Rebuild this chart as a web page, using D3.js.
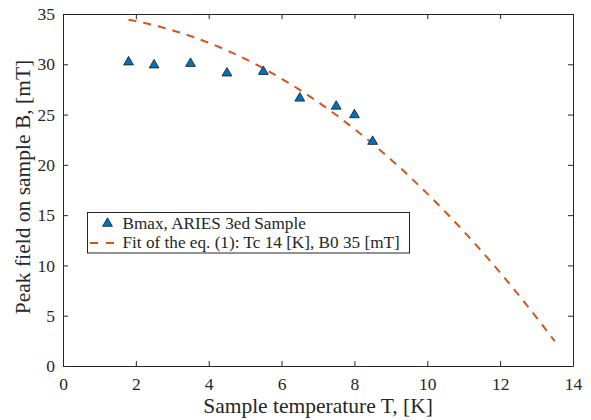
<!DOCTYPE html>
<html><head><meta charset="utf-8">
<script src="https://cdn.jsdelivr.net/npm/d3@7"></script>
<style>body{margin:0;background:#fff}svg{display:block}text{font-family:"Liberation Serif","Times New Roman",serif;fill:#262626}</style>
</head><body><svg id="c" width="591" height="420"></svg>
<script>
// Measured points: Bmax, ARIES 3ed Sample
const measT = [1.8, 2.5, 3.5, 4.5, 5.5, 6.5, 7.5, 8.0, 8.5];
const measB = [30.3, 30.0, 30.15, 29.2, 29.35, 26.7, 25.9, 25.05, 22.4];
// Fit curve
const fitT = [1.8, 2.0, 2.5, 3.0, 3.5, 4.0, 4.5, 5.0, 5.5, 6.0, 6.5, 7.0, 7.5, 8.0, 8.5, 9.0, 9.5, 10.0, 10.5, 11.0, 11.5, 12.0, 12.5, 13.0, 13.5];
const fitB = [34.42, 34.29, 33.88, 33.39, 32.81, 32.14, 31.38, 30.54, 29.60, 28.57, 27.46, 26.25, 24.96, 23.57, 22.10, 20.54, 18.88, 17.14, 15.31, 13.39, 11.38, 9.29, 7.10, 4.82, 2.46];
const xTicks = [0, 2, 4, 6, 8, 10, 12, 14];
const yTicks = [0, 5, 10, 15, 20, 25, 30, 35];
const legendLabels = ["Bmax, ARIES 3ed Sample", "Fit of the eq. (1): Tc 14 [K], B0 35 [mT]"];
const xTitle = "Sample temperature T, [K]";
const yTitle = "Peak field on sample B, [mT]";

const W = 591, H = 420, m = {l: 63, r: 18, t: 14, b: 54};
const svg = d3.select("#c");
const x = d3.scaleLinear().domain([0, 14]).range([m.l, W - m.r]);
const y = d3.scaleLinear().domain([0, 35]).range([H - m.b, m.t]);
const axCol = "#262626";

function styleAxis(g) {
  g.attr("font-family", null);
  g.select(".domain").attr("stroke", axCol);
  g.selectAll(".tick line").attr("stroke", axCol);
  g.selectAll(".tick text").style("font-size", "17.5px").attr("fill", axCol);
}
svg.append("g").attr("transform", `translate(0,${y(0)})`)
  .call(d3.axisBottom(x).tickValues(xTicks).tickSize(-5).tickSizeOuter(0).tickPadding(11.5))
  .call(styleAxis);
svg.append("g").attr("transform", `translate(0,${y(35)})`)
  .call(d3.axisTop(x).tickValues(xTicks).tickSize(-5).tickSizeOuter(0).tickFormat(""))
  .call(styleAxis);
svg.append("g").attr("transform", `translate(${x(0)},0)`)
  .call(d3.axisLeft(y).tickValues(yTicks).tickSize(-5).tickSizeOuter(0).tickPadding(8))
  .call(styleAxis);
svg.append("g").attr("transform", `translate(${x(14)},0)`)
  .call(d3.axisRight(y).tickValues(yTicks).tickSize(-5).tickSizeOuter(0).tickFormat(""))
  .call(styleAxis);

// fit line
const line = d3.line().x(d => x(d[0])).y(d => y(d[1])).curve(d3.curveMonotoneX);
svg.append("path").datum(fitT.map((t, i) => [t, fitB[i]]))
  .attr("d", line).attr("fill", "none").attr("stroke", "#D95319")
  .attr("stroke-width", 2).attr("stroke-dasharray", "8,7");

// triangles
const tri = d3.symbol().type(d3.symbolTriangle).size(42);
svg.selectAll(".pt").data(measT.map((t, i) => [t, measB[i]])).join("path")
  .attr("d", tri).attr("transform", d => `translate(${x(d[0])},${y(d[1]) + 0.8})`)
  .attr("fill", "#0072BD").attr("stroke", "#1a1a1a").attr("stroke-width", 0.8);

// titles
svg.append("text").attr("x", (x(0) + x(14)) / 2).attr("y", 413).attr("text-anchor", "middle")
  .style("font-size", "21.5px").text(xTitle);
svg.append("text").attr("transform", `translate(30,187) rotate(-90)`)
  .attr("text-anchor", "middle").style("font-size", "21.5px").text(yTitle);

// legend
const lg = svg.append("g");
lg.append("rect").attr("x", 87.5).attr("y", 212.5).attr("width", 322).attr("height", 40.5)
  .attr("fill", "#fff").attr("stroke", axCol).attr("stroke-width", 1);
lg.append("path").attr("d", tri).attr("transform", "translate(107.5,223.5)")
  .attr("fill", "#0072BD").attr("stroke", "#1a1a1a").attr("stroke-width", 0.8);
lg.append("line").attr("x1", 90).attr("x2", 114).attr("y1", 243).attr("y2", 243)
  .attr("stroke", "#D95319").attr("stroke-width", 2).attr("stroke-dasharray", "8,8");
lg.selectAll(".lt").data(legendLabels).join("text").attr("x", 122.5)
  .attr("y", (d, i) => 229 + i * 19).style("font-size", "17.2px").attr("fill", "#000").text(d => d);
</script></body></html>
